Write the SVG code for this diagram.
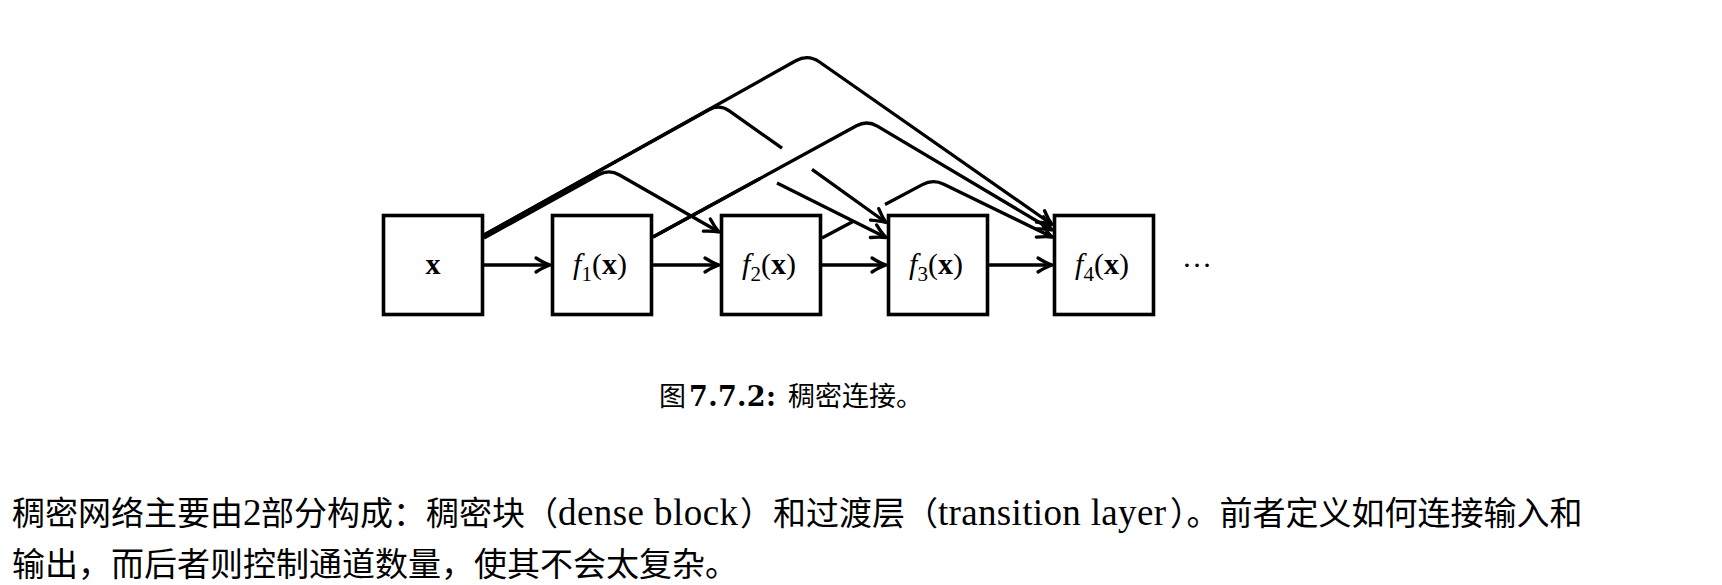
<svg xmlns="http://www.w3.org/2000/svg" width="1722" height="585" viewBox="0 0 1722 585">
  <style>
    .box { fill: #fff; stroke: #000; stroke-width: 3.6; }
    .lbl { font-family: "Liberation Serif", "Times New Roman", serif; font-size: 30px; fill: #000; }
    .con { fill: none; stroke: #000; stroke-width: 3.3; stroke-linejoin: round; }
    .cap { font-family: "Liberation Serif", "Noto Sans CJK SC", serif; font-size: 27px; fill: #000; }
    .body { font-family: "Liberation Serif", "Noto Sans CJK SC", serif; font-size: 33px; fill: #000; }
    .lat { font-family: "Liberation Serif", "Times New Roman", serif; font-size: 37px; }
  </style>
  <defs>
    <marker id="arr" markerUnits="userSpaceOnUse" markerWidth="24" markerHeight="24" viewBox="-18 -12 24 24" refX="0" refY="0" orient="auto" overflow="visible">
      <path d="M-14,-7 Q-6,-2 0,0 Q-6,2 -14,7" fill="none" stroke="#000" stroke-width="3.3" stroke-linecap="round" stroke-linejoin="round"/>
    </marker>
  </defs>
  <rect width="1722" height="585" fill="#fff"/>

  <g id="connectors">
    <path class="con" d="M484,265 L550,265" marker-end="url(#arr)"/>
    <path class="con" d="M653,265 L719,265" marker-end="url(#arr)"/>
    <path class="con" d="M822,265 L886,265" marker-end="url(#arr)"/>
    <path class="con" d="M989,265 L1052,265" marker-end="url(#arr)"/>
    <!-- x -> f2 -->
    <path class="con" d="M484,238 L598.5,174.8 Q609,169 619.5,175 L719,232" marker-end="url(#arr)"/>
    <!-- x -> f3 -->
    <path class="con" d="M484,235 L709,109.8 Q719.5,104 729.3,110.9 L782,148.2 M812,169.4 L886,222.5" marker-end="url(#arr)"/>
    <!-- x -> f4 -->
    <path class="con" d="M484,235 L795.8,60.8 Q808,54 819.5,62 L1052,224.5" marker-end="url(#arr)"/>
    <!-- f1 -> f3 -->
    <path class="con" d="M653,237 L760,178.5 M777,183 L886,237.5" marker-end="url(#arr)"/>
    <!-- f1 -> f4 -->
    <path class="con" d="M653,237 L856.5,125.8 Q867,120 877.3,126.1 L1052,230" marker-end="url(#arr)"/>
    <!-- f2 -> f4 -->
    <path class="con" d="M822,238 L853,221.5 M885,204.5 L922.4,184.6 Q933,179 943.8,184.2 L1052,237" marker-end="url(#arr)"/>
  </g>

  <g id="node-x">
    <rect class="box" x="383.5" y="215.5" width="99" height="99"/>
    <text class="lbl" x="433" y="274" text-anchor="middle" font-weight="bold">x</text>
  </g>
  <g id="node-f1">
    <rect class="box" x="552.5" y="215.5" width="99" height="99"/>
    <text class="lbl" x="600" y="274" text-anchor="middle"><tspan font-style="italic">f</tspan><tspan font-size="21" dy="7">1</tspan><tspan dy="-7">(</tspan><tspan font-weight="bold">x</tspan>)</text>
  </g>
  <g id="node-f2">
    <rect class="box" x="721.5" y="215.5" width="99" height="99"/>
    <text class="lbl" x="769" y="274" text-anchor="middle"><tspan font-style="italic">f</tspan><tspan font-size="21" dy="7">2</tspan><tspan dy="-7">(</tspan><tspan font-weight="bold">x</tspan>)</text>
  </g>
  <g id="node-f3">
    <rect class="box" x="888.5" y="215.5" width="99" height="99"/>
    <text class="lbl" x="936" y="274" text-anchor="middle"><tspan font-style="italic">f</tspan><tspan font-size="21" dy="7">3</tspan><tspan dy="-7">(</tspan><tspan font-weight="bold">x</tspan>)</text>
  </g>
  <g id="node-f4">
    <rect class="box" x="1054.5" y="215.5" width="99" height="99"/>
    <text class="lbl" x="1102" y="274" text-anchor="middle"><tspan font-style="italic">f</tspan><tspan font-size="21" dy="7">4</tspan><tspan dy="-7">(</tspan><tspan font-weight="bold">x</tspan>)</text>
  </g>
  <g id="ellipsis">
    <text class="lbl" x="1182" y="267">…</text>
  </g>

  <g id="caption">
    <text class="cap" y="406"><tspan x="659">图</tspan><tspan x="689" font-family="DejaVu Serif" font-weight="bold" textLength="87" lengthAdjust="spacing">7.7.2:</tspan><tspan x="788">稠密连接。</tspan></text>
  </g>

  <g id="body">
    <text class="body" y="525"><tspan x="12">稠密网络主要由</tspan><tspan x="243" class="lat" font-size="36">2</tspan><tspan x="261">部分构成：稠密块（</tspan><tspan x="558" class="lat" textLength="180" lengthAdjust="spacing">dense block</tspan><tspan x="740">）和过渡层（</tspan><tspan x="938" class="lat" textLength="228" lengthAdjust="spacing">transition layer</tspan><tspan x="1170">）。前者定义如何连接输入和</tspan></text>
    <text class="body" x="12" y="576">输出，而后者则控制通道数量，使其不会太复杂。</text>
  </g>
</svg>
